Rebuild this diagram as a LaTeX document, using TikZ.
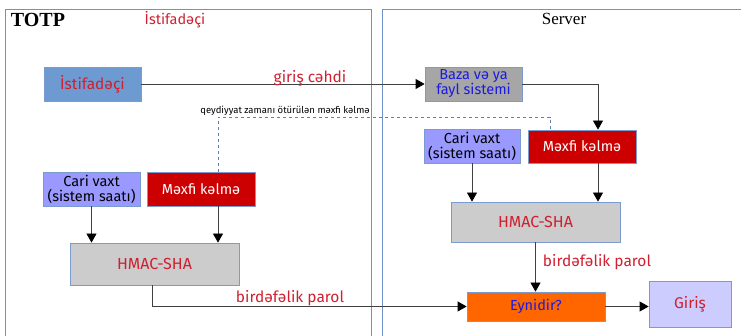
\documentclass[tikz,border=0pt]{standalone}
\usepackage{fontspec}
\setmainfont{Fira Sans}
\newfontfamily\seriffont{Liberation Serif}
\usetikzlibrary{arrows.meta}

\definecolor{panelline}{HTML}{6F92CC}
\definecolor{boxline}{HTML}{7B9BD0}
\definecolor{userblue}{HTML}{6D9BD1}
\definecolor{bazagray}{HTML}{A6A6A6}
\definecolor{keyred}{HTML}{CC0000}
\definecolor{clockblue}{HTML}{9999FF}
\definecolor{hmacgray}{HTML}{CCCCCC}
\definecolor{cmporange}{HTML}{FF6600}
\definecolor{loginblue}{HTML}{CCCCFF}
\definecolor{txtred}{HTML}{D01F2F}
\definecolor{txtblue}{HTML}{1A1AE0}
\definecolor{lineg}{HTML}{404040}
\definecolor{dashblue}{HTML}{5F7FAF}

\tikzset{
	panel/.style={draw=panelline,line width=0.7pt},
	box/.style={draw=boxline,line width=0.8pt,inner sep=1pt,align=center,
		font=\fontsize{14.5}{15}\selectfont},
	conn/.style={draw=lineg,line width=0.8pt,-{Triangle[width=10pt,length=9pt,black]}},
	dashline/.style={draw=dashblue,line width=0.7pt,dashed},
	lbl/.style={text=txtred,font=\fontsize{15.5}{16}\selectfont,inner sep=0pt},
}

\begin{document}
\begin{tikzpicture}[x=1pt,y=-1pt]
	\useasboundingbox (0,0) rectangle (741,336);

	% two sides
	\draw[panel] (5,9) rectangle (371,345);
	\draw[panel] (382,9) rectangle (750,345);
	\node[inner sep=0pt,font=\seriffont\bfseries\fontsize{20}{22}\selectfont] (title) at (38,20) {TOTP};
	\node[lbl,font=\fontsize{14.5}{15}\selectfont] (usrhead) at (175,20) {İstifadəçi};
	\node[inner sep=0pt,font=\seriffont\fontsize{17}{19}\selectfont] (srvhead) at (564,19) {Server};

	% client side
	\node[box,fill=userblue,text=txtred,font=\fontsize{15.5}{16}\selectfont,minimum width=97pt,minimum height=34pt] (user) at (92.5,84) {İstifadəçi};
	\node[box,fill=clockblue,minimum width=97pt,minimum height=34pt] (lcv) at (91.5,189) {Cari vaxt\\(sistem saatı)};
	\node[box,fill=keyred,text=white,minimum width=108pt,minimum height=34pt] (lmk) at (201,189) {Məxfi kəlmə};
	\node[box,fill=hmacgray,text=txtred,font=\fontsize{16}{17}\selectfont,minimum width=169pt,minimum height=42pt] (lhmac) at (154.5,264) {HMAC-SHA};

	% server side
	\node[box,fill=bazagray,text=txtblue,minimum width=97pt,minimum height=34pt] (baza) at (473.5,84) {Baza və ya\\fayl sistemi};
	\node[box,fill=clockblue,minimum width=96pt,minimum height=34pt] (scv) at (472,146) {Cari vaxt\\(sistem saatı)};
	\node[box,fill=keyred,text=white,minimum width=108pt,minimum height=33pt] (smk) at (582,146.5) {Məxfi kəlmə};
	\node[box,fill=hmacgray,text=txtred,font=\fontsize{16}{17}\selectfont,minimum width=169pt,minimum height=40pt] (shmac) at (535.5,222) {HMAC-SHA};
	\node[box,fill=cmporange,text=txtblue,minimum width=138pt,minimum height=29pt] (eyn) at (536,306.5) {Eynidir?};
	\node[box,fill=loginblue,text=txtred,font=\fontsize{15.5}{16}\selectfont,minimum width=82pt,minimum height=46pt] (giris) at (690,304) {Giriş};

	% connectors
	\draw[conn] (user.east) -- (baza.west);
	\node[lbl] (attempt) at (310,78) {giriş cəhdi};
	\draw[conn] (baza.east) -| ([xshift=16pt]smk.north);

	\coordinate (dashtop) at (550,117);
	\draw[dashline] ([xshift=17pt]lmk.north) |- (dashtop) -- (dashtop |- smk.north);
	\node[inner sep=0pt,font=\fontsize{9.5}{11}\selectfont] (regnote) at (285,111) {qeydiyyat zamanı ötürülən məxfi kəlmə};

	\draw[conn] (lcv.south) -- (lcv.south |- lhmac.north);
	\draw[conn] ([xshift=17pt]lmk.south) -- ([xshift=17pt]lmk.south |- lhmac.north);
	\draw[conn] (scv.south) -- (scv.south |- shmac.north);
	\draw[conn] ([xshift=16pt]smk.south) -- ([xshift=16pt]smk.south |- shmac.north);

	\draw[conn] ([xshift=-2pt]lhmac.south) |- (eyn.west);
	\node[lbl] (otpleft) at (290,298) {birdəfəlik parol};
	\draw[conn] (shmac.south) -- (shmac.south |- eyn.north);
	\node[lbl] (otpright) at (597,262) {birdəfəlik parol};
	\draw[conn] (eyn.east) -- (eyn.east -| giris.west);
\end{tikzpicture}
\end{document}
